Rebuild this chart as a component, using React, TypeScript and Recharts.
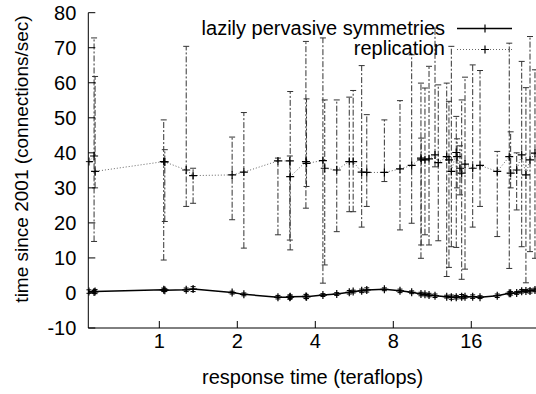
import React from "react"
import { ComposedChart, Line, XAxis, YAxis, ErrorBar } from "recharts"

const FONT = "'Liberation Sans', Arial, sans-serif"

const xTicks = [1, 2, 4, 8, 16]
const yTicks = [-10, 0, 10, 20, 30, 40, 50, 60, 70, 80]

// replication: x, y, lower end, upper end of the bar
const replX = [0.535, 0.56, 0.565, 1.04, 1.05, 1.27, 1.35, 1.91, 2.12, 2.87, 3.19, 3.2, 3.68, 3.7, 4.28, 4.35, 4.84, 5.41, 5.6, 6.04, 6.32, 7.39, 8.49, 9.42, 10.23, 10.25, 10.6, 10.99, 11.59, 11.93, 12.86, 13.12, 13.4, 14.0, 14.1, 14.47, 14.69, 15.13, 16.2, 17.29, 20.15, 22.42, 22.7, 23.95, 25.04, 26.0, 26.96, 28.18]
const replY = [37.5, 39.1, 34.7, 37.5, 37.4, 35.1, 33.5, 33.7, 34.5, 37.7, 37.7, 33.2, 37.5, 37.0, 37.8, 35.6, 35.1, 37.5, 37.5, 34.5, 34.4, 34.4, 35.4, 36.4, 38.5, 38.0, 38.0, 38.3, 39.4, 37.2, 38.9, 38.0, 34.7, 40.1, 38.9, 35.6, 34.2, 36.8, 35.6, 36.4, 34.7, 38.9, 34.2, 35.1, 39.4, 33.7, 38.0, 39.9]
const replLow = [37.5, 14.7, 30.0, 9.4, 20.4, 24.7, 25.6, 20.9, 12.8, 16.6, 15.1, 12.3, 24.2, 30.4, 2.8, 8.0, 17.5, 23.2, 23.2, 18.8, 24.7, 31.8, 18.0, 19.9, 9.9, 13.7, 16.6, 13.7, 36.0, 14.9, 4.7, 7.3, 13.2, 13.0, 30.0, 28.0, 3.9, 6.8, 18.8, 24.7, 16.1, 7.0, 30.0, 23.7, 13.2, 2.9, 11.8, 9.9]
const replHigh = [37.5, 72.8, 61.8, 49.4, 40.9, 70.4, 35.6, 44.5, 51.5, 38.5, 39.1, 57.5, 71.8, 55.4, 72.8, 55.1, 55.1, 55.9, 57.8, 64.9, 50.9, 49.4, 54.9, 68.0, 59.9, 44.2, 58.5, 64.7, 75.6, 59.4, 59.9, 54.7, 70.4, 50.4, 44.0, 42.0, 55.1, 61.6, 65.1, 63.5, 40.4, 71.3, 46.0, 40.0, 66.1, 58.6, 73.2, 63.7]

// lazily pervasive symmetries
const lazyX = [0.535, 0.56, 0.565, 1.04, 1.05, 1.27, 1.35, 1.91, 2.12, 2.87, 3.19, 3.2, 3.68, 3.7, 4.28, 4.84, 5.41, 5.6, 6.04, 6.32, 7.39, 8.49, 9.42, 10.23, 10.6, 10.99, 11.59, 12.86, 13.4, 14.0, 14.69, 15.13, 16.2, 17.29, 20.15, 22.42, 22.7, 23.95, 25.04, 26.0, 26.96, 28.18]
const lazyY = [0.4, 0.3, 0.4, 0.9, 0.8, 0.9, 1.1, 0.1, -0.4, -1.2, -1.2, -1.1, -1.0, -1.1, -0.6, -0.3, 0.2, 0.4, 0.6, 0.86, 1.05, 0.6, 0.2, -0.3, -0.4, -0.6, -0.8, -1.05, -1.2, -1.2, -1.05, -1.1, -1.05, -1.2, -0.8, -0.1, -0.1, 0.0, 0.5, 0.57, 0.57, 0.86]
const lazyErr = [0.5, 0.4, 0.6, 0.5, 0.4, 0.5, 0.7, 0.4, 0.4, 0.5, 0.6, 0.5, 0.6, 0.5, 0.4, 0.4, 0.5, 0.4, 0.5, 0.6, 0.4, 0.5, 0.4, 0.5, 0.4, 0.5, 0.5, 0.4, 0.6, 0.5, 0.6, 0.4, 0.5, 0.4, 0.5, 0.4, 0.5, 0.4, 0.5, 0.4, 0.6, 0.5]

const replData = replX.map((x, i) => ({ x, y: replY[i], err: [replY[i] - replLow[i], replHigh[i] - replY[i]] }))
const lazyData = lazyX.map((x, i) => ({ x, y: lazyY[i], err: lazyErr[i] }))

const xDomain = [0.532, 28.69]

const Plus = (props: any) => {
  const { cx, cy } = props
  if (cx == null || cy == null) return null
  return <path d={`M${cx - 4},${cy}h8M${cx},${cy - 4}v8`} stroke="#000" strokeWidth={1.2} fill="none" />
}

const YTick = ({ x, y, payload }: any) => (
  <g>
    <line x1={x} x2={x + 7} y1={y} y2={y} stroke="#000" />
    <text x={x - 12} y={y} dy="0.36em" textAnchor="end" fontSize={20} fontFamily={FONT} fill="#000">
      {payload.value}
    </text>
  </g>
)

const XTick = ({ x, y, payload }: any) => (
  <g>
    <line x1={x} x2={x} y1={y} y2={y - 7} stroke="#000" />
    <text x={x} y={y + 20} textAnchor="middle" fontSize={20} fontFamily={FONT} fill="#000">
      {payload.value}
    </text>
  </g>
)

const TopTick = ({ x, y }: any) => <line x1={x} x2={x} y1={y} y2={y + 7} stroke="#000" />

const series = [
  { name: "lazily pervasive symmetries", stroke: "#000", dash: undefined, width: 1.5 },
  { name: "replication", stroke: "#666", dash: "1 2", width: 1 },
]

export default function App() {
  return (
    <div style={{ position: "absolute", left: 0, top: 0, width: 536, height: 394, overflow: "hidden" }}>
      <ComposedChart width={537} height={394} margin={{ top: 12.7, right: 0, bottom: 0, left: 0 }}>
        <XAxis
          dataKey="x"
          type="number"
          scale="log"
          domain={xDomain}
          allowDataOverflow
          ticks={xTicks}
          height={66}
          tickSize={0}
          tickMargin={0}
          tickLine={false}
          axisLine={{ stroke: "#000" }}
          tick={<XTick />}
          label={{
            content: ({ viewBox }: any) => (
              <text x={viewBox.x + viewBox.width / 2} y={384} textAnchor="middle" fontSize={20} fontFamily={FONT} fill="#000">
                response time (teraflops)
              </text>
            ),
          }}
        />
        <XAxis
          xAxisId="top"
          orientation="top"
          dataKey="x"
          type="number"
          scale="log"
          domain={xDomain}
          allowDataOverflow
          ticks={xTicks}
          height={0}
          tickSize={0}
          tickMargin={0}
          tickLine={false}
          axisLine={{ stroke: "#000" }}
          tick={<TopTick />}
        />
        <YAxis
          type="number"
          domain={[-10, 80]}
          allowDataOverflow
          ticks={yTicks}
          width={88.3}
          tickSize={0}
          tickMargin={0}
          tickLine={false}
          axisLine={{ stroke: "#000" }}
          tick={<YTick />}
          label={{
            content: () => (
              <text transform="translate(28,159) rotate(-90)" textAnchor="middle" fontSize={19} fontFamily={FONT} fill="#000">
                time since 2001 (connections/sec)
              </text>
            ),
          }}
        />
        <Line
          data={lazyData}
          dataKey="y"
          stroke="#000"
          strokeWidth={1.5}
          dot={<Plus />}
          activeDot={false}
          isAnimationActive={false}
        >
          <ErrorBar dataKey="err" direction="y" width={2.5} stroke="#000" strokeWidth={1} isAnimationActive={false} />
        </Line>
        <Line
          data={replData}
          dataKey="y"
          stroke="#666"
          strokeWidth={1}
          strokeDasharray="1 2"
          dot={<Plus />}
          activeDot={false}
          isAnimationActive={false}
        >
          <ErrorBar
            dataKey="err"
            direction="y"
            width={3}
            stroke="#333"
            strokeWidth={1}
            strokeDasharray="6 2 2 2"
            isAnimationActive={false}
          />
        </Line>
      </ComposedChart>
      <svg width={536} height={70} style={{ position: "absolute", left: 0, top: 0, pointerEvents: "none" }}>
        {series.map((s, i) => (
          <g key={s.name}>
            <text x={445} y={35 + i * 20} textAnchor="end" fontSize={20} fontFamily={FONT} fill="#000">
              {s.name}
            </text>
            <line x1={457} x2={512} y1={28.5 + i * 21} y2={28.5 + i * 21} stroke={s.stroke} strokeWidth={s.width} strokeDasharray={s.dash} />
            <Plus cx={485} cy={28.5 + i * 21} />
          </g>
        ))}
      </svg>
    </div>
  )
}
